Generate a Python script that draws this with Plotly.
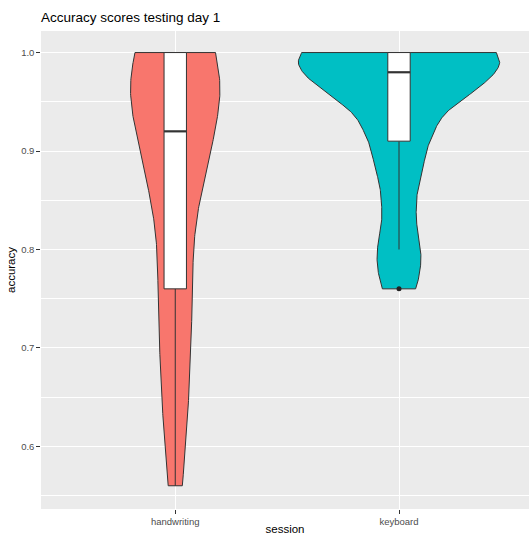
import numpy as np
import plotly.graph_objects as go

# ---------------- data ----------------
categories = ["handwriting", "keyboard"]
fill_colors = ["#F8766D", "#00BFC4"]

# violin profiles: accuracy level -> scaled density (1.0 = widest violin)
hw_levels = [1.00, 0.98, 0.96, 0.94, 0.92, 0.90, 0.88, 0.86, 0.84, 0.82, 0.80, 0.78,
             0.76, 0.74, 0.72, 0.70, 0.68, 0.66, 0.64, 0.62, 0.60, 0.58, 0.56]
hw_density = [0.400, 0.434, 0.444, 0.426, 0.394, 0.352, 0.309, 0.265, 0.228, 0.200, 0.183, 0.175,
              0.171, 0.167, 0.161, 0.155, 0.148, 0.139, 0.128, 0.116, 0.102, 0.087, 0.070]

kb_levels = [1.00, 0.99, 0.98, 0.97, 0.96, 0.95, 0.94, 0.93, 0.92, 0.91, 0.90, 0.89, 0.88,
             0.87, 0.86, 0.85, 0.84, 0.83, 0.82, 0.81, 0.80, 0.79, 0.78, 0.77, 0.76]
kb_density = [0.967, 1.000, 0.955, 0.857, 0.735, 0.600, 0.480, 0.400, 0.350, 0.306, 0.275, 0.252, 0.230,
              0.203, 0.185, 0.175, 0.171, 0.172, 0.185, 0.203, 0.214, 0.218, 0.210, 0.193, 0.165]

# box statistics
box_q1 = [0.76, 0.91]
box_median = [0.92, 0.98]
box_q3 = [1.00, 1.00]
box_lower = [0.56, 0.80]
box_upper = [1.00, 1.00]

# outliers
outlier_cat = ["keyboard"]
outlier_val = [0.76]

y_ticks = [0.6, 0.7, 0.8, 0.9, 1.0]
y_minor = [0.55, 0.65, 0.75, 0.85, 0.95]

# ---------------- figure ----------------
VIOLIN_HALF = 0.45
BOX_WIDTH = 0.1
OUTLINE = "#333333"
FONT = "Liberation Sans, Arial, Helvetica, sans-serif"


def smooth(levels, dens, n=12):
    """Cubic Hermite (Catmull-Rom) resampling of a profile."""
    p = np.asarray(dens, float)
    y = np.asarray(levels, float)
    m = np.empty_like(p)
    m[1:-1] = (p[2:] - p[:-2]) / 2
    m[0] = p[1] - p[0]
    m[-1] = p[-1] - p[-2]
    out_y, out_p = [], []
    for i in range(len(p) - 1):
        t = np.linspace(0, 1, n, endpoint=False)
        h00 = 2 * t**3 - 3 * t**2 + 1
        h10 = t**3 - 2 * t**2 + t
        h01 = -2 * t**3 + 3 * t**2
        h11 = t**3 - t**2
        out_p.append(h00 * p[i] + h10 * m[i] + h01 * p[i + 1] + h11 * m[i + 1])
        out_y.append(y[i] + t * (y[i + 1] - y[i]))
    out_p.append([p[-1]])
    out_y.append([y[-1]])
    return np.concatenate(out_y), np.concatenate(out_p)


fig = go.Figure()

# violins
profiles = [(hw_levels, hw_density), (kb_levels, kb_density)]
for i, (lv, dens) in enumerate(profiles):
    pos = i + 1
    sy, sp = smooth(lv, dens)
    d = sp * VIOLIN_HALF
    xs = np.concatenate([pos + d, (pos - d)[::-1]])
    ys = np.concatenate([sy, sy[::-1]])
    xs = np.append(xs, xs[0])
    ys = np.append(ys, ys[0])
    fig.add_trace(go.Scatter(
        x=xs, y=ys, mode="lines", fill="toself",
        fillcolor=fill_colors[i],
        line=dict(color=OUTLINE, width=1),
        hoverinfo="skip", showlegend=False))

# boxplots (drawn as scatter so they sit above the violin fills)
hw = BOX_WIDTH / 2
for i in range(len(categories)):
    pos = i + 1
    fig.add_trace(go.Scatter(
        x=[pos, pos, None, pos, pos],
        y=[box_lower[i], box_q1[i], None, box_q3[i], box_upper[i]],
        mode="lines", line=dict(color=OUTLINE, width=1),
        hoverinfo="skip", showlegend=False))
    fig.add_trace(go.Scatter(
        x=[pos - hw, pos + hw, pos + hw, pos - hw, pos - hw],
        y=[box_q1[i], box_q1[i], box_q3[i], box_q3[i], box_q1[i]],
        mode="lines", fill="toself", fillcolor="white",
        line=dict(color=OUTLINE, width=1),
        hoverinfo="skip", showlegend=False))
    fig.add_trace(go.Scatter(
        x=[pos - hw, pos + hw],
        y=[box_median[i], box_median[i]], mode="lines",
        line=dict(color=OUTLINE, width=2.2), hoverinfo="skip", showlegend=False))

fig.add_trace(go.Scatter(
    x=[categories.index(c) + 1 for c in outlier_cat], y=outlier_val,
    mode="markers", marker=dict(color="#222222", size=5),
    hoverinfo="skip", showlegend=False))

fig.update_layout(
    width=529, height=535,
    margin=dict(l=41, r=0, t=31, b=26, autoexpand=False),
    plot_bgcolor="#EBEBEB", paper_bgcolor="white",
    font=dict(family=FONT, color="black"),
    title=dict(text="Accuracy scores testing day 1", x=0, xref="paper", xanchor="left",
               y=1 - 17.5 / 535, yref="container", yanchor="middle",
               font=dict(size=13.5, color="black", family=FONT)),
    showlegend=False,
)

fig.update_xaxes(
    range=[0.4, 2.581], tickvals=[1, 2], ticktext=categories, automargin=False,
    showgrid=True, gridcolor="white", gridwidth=1.07, zeroline=False, showline=False,
    ticks="outside", ticklen=3.7, tickwidth=1, tickcolor=OUTLINE,
    tickfont=dict(size=9.5, color="#4D4D4D", family=FONT),
    title=dict(text="session", font=dict(size=11.5, color="black", family=FONT), standoff=7),
)
fig.update_yaxes(
    range=[0.5364, 1.0219], tickvals=y_ticks, tickformat=".1f", automargin=False,
    showgrid=True, gridcolor="white", gridwidth=1.07, zeroline=False, showline=False,
    ticks="outside", ticklen=3.7, tickwidth=1, tickcolor=OUTLINE,
    tickfont=dict(size=9.5, color="#4D4D4D", family=FONT),
    minor=dict(tickvals=y_minor, showgrid=True, gridcolor="white", gridwidth=0.53, ticks=""),
    title=dict(text="accuracy", font=dict(size=11.5, color="black", family=FONT), standoff=3),
)

fig.write_html("out.html")
